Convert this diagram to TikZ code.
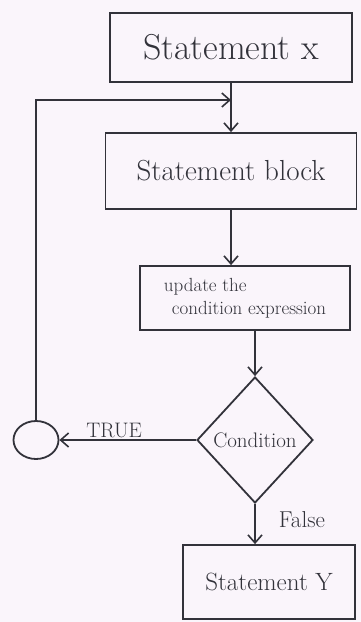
\documentclass[tikz,border=0pt]{standalone}
\usetikzlibrary{arrows.meta,shapes.geometric}
\definecolor{paper}{RGB}{250,245,251}
\definecolor{ink}{RGB}{50,50,58}
\begin{document}
\begin{tikzpicture}[x=1pt,y=-1pt,
    line width=1.8pt, draw=ink, text=ink,
    flow/.style={-{Straight Barb[length=8pt,width=14pt,line width=1.6pt]}},
    stepbox/.style={draw=ink, rectangle, inner sep=2pt},
    lbl/.style={inner sep=1pt}]
  \fill[paper] (0,0) rectangle (361,622);
  \useasboundingbox (0,0) rectangle (361,622);

  % boxes
  \node[stepbox, minimum width=242pt, minimum height=69pt,
        font=\fontsize{36}{40}\selectfont] (sx) at (231,47.5) {Statement x};
  \node[stepbox, minimum width=251pt, minimum height=76pt,
        font=\fontsize{29}{33}\selectfont] (blk) at (231,171) {Statement block};
  \node[stepbox, minimum width=210pt, minimum height=64pt, align=left,
        font=\fontsize{19}{23}\selectfont] (upd) at (245,298)
        {update the\\\hspace*{8pt}condition expression};
  \node[draw=ink, diamond, minimum width=116pt, minimum height=126pt,
        inner sep=0pt, font=\fontsize{21}{25}\selectfont] (cond) at (255,440) {Condition};
  \node[draw=ink, ellipse, minimum width=45pt, minimum height=38pt,
        inner sep=0pt] (join) at (36,440) {};
  \node[stepbox, minimum width=172pt, minimum height=74pt,
        font=\fontsize{25}{29}\selectfont] (sy) at (269,582) {Statement Y};

  % connectors
  \coordinate (corner) at (join.north |- 0,100);
  \coordinate (merge) at (sx.south |- 0,100);
  \draw[flow] (sx.south) -- (blk.north);
  \draw[flow] (join.north) -- (corner) -- (merge);
  \draw[flow] (blk.south) -- (blk.south |- upd.north);
  \draw[flow] (upd.south -| cond.north) -- (cond.north);
  \draw[flow] (cond.west) -- node[lbl, above, pos=0.6, font=\fontsize{21}{25}\selectfont] {TRUE} (join.east);
  \draw[flow] (cond.south) -- node[lbl, right, pos=0.4, xshift=22pt, font=\fontsize{23}{27}\selectfont] {False} (cond.south |- sy.north);
\end{tikzpicture}
\end{document}
